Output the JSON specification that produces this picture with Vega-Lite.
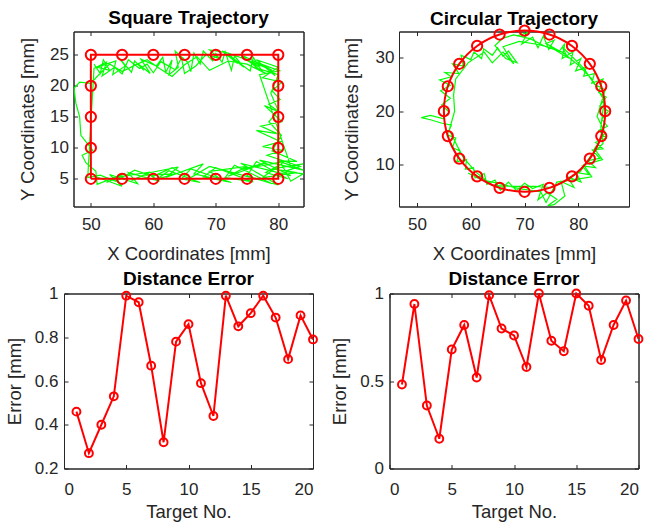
{
  "$schema": "https://vega.github.io/schema/vega-lite/v6.json",
  "padding": {"left": 4, "top": 8.5, "right": 0, "bottom": 0},
  "config": {
    "font": "Liberation Sans",
    "view": {"stroke": "#262626", "strokeWidth": 1},
    "axis": {"grid": false, "domainColor": "#262626", "tickColor": "#262626", "labelColor": "#262626", "titleColor": "#262626", "labelFontSize": 17, "titleFontSize": 18.5, "titleFontWeight": "normal", "tickSize": -4, "labelFont": "Liberation Sans", "titleFont": "Liberation Sans"},
    "title": {"fontSize": 19, "fontWeight": "bold", "color": "#000000", "offset": 5, "anchor": "middle", "frame": "group", "font": "Liberation Sans"}
  },
  "datasets": {
    "sqTraj": [
      {"i":1,"x":50.5,"y":23.5},{"i":2,"x":51.5,"y":22},{"i":3,"x":52,"y":24.2},{"i":4,"x":53,"y":22.5},{"i":5,"x":51,"y":23},{"i":6,"x":54,"y":24},{"i":7,"x":53.5,"y":21.8},{"i":8,"x":55.5,"y":23.2},{"i":9,"x":54.5,"y":24.5},{"i":10,"x":56.5,"y":22.2},
      {"i":11,"x":57,"y":24},{"i":12,"x":58.5,"y":22.5},{"i":13,"x":57.5,"y":23.6},{"i":14,"x":59.5,"y":22},{"i":15,"x":58,"y":24.3},{"i":16,"x":60.5,"y":23.2},{"i":17,"x":61.5,"y":24.6},{"i":18,"x":62,"y":22.2},{"i":19,"x":63,"y":24.2},{"i":20,"x":62.5,"y":21.8},
      {"i":21,"x":64,"y":23},{"i":22,"x":63.5,"y":25.6},{"i":23,"x":65.5,"y":23.8},{"i":24,"x":66,"y":22.3},{"i":25,"x":66.5,"y":25.3},{"i":26,"x":67.5,"y":23.5},{"i":27,"x":68,"y":25.6},{"i":28,"x":69.5,"y":24},{"i":29,"x":70,"y":25.2},{"i":30,"x":71,"y":23.8},
      {"i":31,"x":71.5,"y":25.5},{"i":32,"x":72.5,"y":22.5},{"i":33,"x":73,"y":24.8},{"i":34,"x":74.5,"y":23},{"i":35,"x":72,"y":25},{"i":36,"x":75.5,"y":22.4},{"i":37,"x":76,"y":24.6},{"i":38,"x":77.5,"y":22.2},{"i":39,"x":74,"y":25},{"i":40,"x":78.5,"y":22.8},
      {"i":41,"x":79.5,"y":21.6},{"i":42,"x":76.5,"y":24.2},{"i":43,"x":80,"y":23},{"i":44,"x":77.5,"y":21.3},{"i":45,"x":80.6,"y":20.6},{"i":46,"x":79,"y":19.2},{"i":47,"x":80.3,"y":17.8},{"i":48,"x":78.5,"y":17},{"i":49,"x":80.1,"y":15.8},{"i":50,"x":77.8,"y":16.8},
      {"i":51,"x":80.6,"y":14.2},{"i":52,"x":77.2,"y":13.5},{"i":53,"x":79.8,"y":12.3},{"i":54,"x":76.5,"y":12.8},{"i":55,"x":80.4,"y":11},{"i":56,"x":77.5,"y":10.2},{"i":57,"x":80.7,"y":9.6},{"i":58,"x":78.2,"y":8.8},{"i":59,"x":83.5,"y":7},{"i":60,"x":81,"y":6.2},
      {"i":61,"x":84,"y":5.8},{"i":62,"x":82,"y":4.6},{"i":63,"x":80.5,"y":7.4},{"i":64,"x":78,"y":6},{"i":65,"x":81.5,"y":5},{"i":66,"x":76.5,"y":7.8},{"i":67,"x":75,"y":5.5},{"i":68,"x":79,"y":4.2},{"i":69,"x":73,"y":7.2},{"i":70,"x":71.5,"y":5.2},
      {"i":71,"x":76,"y":4.5},{"i":72,"x":70,"y":6.8},{"i":73,"x":68,"y":5.3},{"i":74,"x":72.5,"y":4.4},{"i":75,"x":66,"y":6.6},{"i":76,"x":64.5,"y":5},{"i":77,"x":67.5,"y":4.4},{"i":78,"x":62.5,"y":6.3},{"i":79,"x":60.5,"y":4.9},{"i":80,"x":63.5,"y":5.8},
      {"i":81,"x":58.5,"y":5.6},{"i":82,"x":56.5,"y":4.7},{"i":83,"x":59.5,"y":6.1},{"i":84,"x":54.5,"y":5.3},{"i":85,"x":52.5,"y":4.4},{"i":86,"x":55.5,"y":5.9},{"i":87,"x":51,"y":4.1},{"i":88,"x":50.8,"y":6.2},{"i":89,"x":49.2,"y":7.6},{"i":90,"x":48.6,"y":8.8},
      {"i":91,"x":50.3,"y":9.6},{"i":92,"x":48.4,"y":12},{"i":93,"x":48.2,"y":15},{"i":94,"x":47.6,"y":17.2},{"i":95,"x":47.3,"y":19.6},{"i":96,"x":48.2,"y":20.6},{"i":97,"x":50,"y":20.4},{"i":98,"x":51,"y":21.5},{"i":99,"x":53,"y":23.5},{"i":100,"x":55,"y":22.3},
      {"i":101,"x":57,"y":23.3},{"i":102,"x":59,"y":24.2},{"i":103,"x":61,"y":22.8},{"i":104,"x":63,"y":21.5},{"i":105,"x":65,"y":23.4},{"i":106,"x":67,"y":24.7},{"i":107,"x":69,"y":22.5},{"i":108,"x":72,"y":24},{"i":109,"x":75,"y":23.5},{"i":110,"x":78,"y":22},
      {"i":111,"x":76,"y":23},{"i":112,"x":80,"y":21.8},{"i":113,"x":78.8,"y":18.8},{"i":114,"x":80,"y":16},{"i":115,"x":78.5,"y":14.2},{"i":116,"x":80.5,"y":12},{"i":117,"x":79,"y":9.5},{"i":118,"x":83,"y":7.8},{"i":119,"x":80,"y":7.9},{"i":120,"x":84,"y":6.4},
      {"i":121,"x":77,"y":8},{"i":122,"x":82,"y":5.5},{"i":123,"x":74,"y":7.5},{"i":124,"x":80,"y":4},{"i":125,"x":72,"y":6.2},{"i":126,"x":69,"y":7},{"i":127,"x":66,"y":5.2},{"i":128,"x":63,"y":6.8},{"i":129,"x":60,"y":5.4},{"i":130,"x":57,"y":6.4},
      {"i":131,"x":54,"y":4.6},{"i":132,"x":51.5,"y":5.6},{"i":133,"x":49.5,"y":5.2},{"i":134,"x":50.5,"y":22.8},{"i":135,"x":52.5,"y":23.8},{"i":136,"x":51.8,"y":21.6},{"i":137,"x":53.8,"y":23},{"i":138,"x":55,"y":21.9},{"i":139,"x":56,"y":24.2},{"i":140,"x":57.8,"y":22.8},
      {"i":141,"x":59,"y":23.5},{"i":142,"x":60,"y":22.1},{"i":143,"x":61.2,"y":23.9},{"i":144,"x":63.5,"y":22.6},{"i":145,"x":64.5,"y":24.5},{"i":146,"x":65,"y":22},{"i":147,"x":66.8,"y":23.2},{"i":148,"x":68.5,"y":25.1},{"i":149,"x":70.5,"y":24.4},{"i":150,"x":69,"y":25.8},
      {"i":151,"x":72,"y":25.3},{"i":152,"x":73.5,"y":23.6},{"i":153,"x":71,"y":25.6},{"i":154,"x":75,"y":24.2},{"i":155,"x":77,"y":23},{"i":156,"x":74,"y":24.6},{"i":157,"x":79,"y":22.5},{"i":158,"x":76,"y":24},{"i":159,"x":80.2,"y":22.4},{"i":160,"x":77,"y":21.8},
      {"i":161,"x":82,"y":7},{"i":162,"x":84,"y":7.4},{"i":163,"x":79,"y":6.6},{"i":164,"x":83,"y":6},{"i":165,"x":77.5,"y":5.2},{"i":166,"x":81,"y":7.8},{"i":167,"x":74.5,"y":6.6},{"i":168,"x":78,"y":7.6},{"i":169,"x":72,"y":5.4},{"i":170,"x":75,"y":7},
      {"i":171,"x":69,"y":6.2},{"i":172,"x":71,"y":4.8},{"i":173,"x":66.5,"y":5.8},{"i":174,"x":68,"y":7.4},{"i":175,"x":62,"y":5.2},{"i":176,"x":64,"y":6.9},{"i":177,"x":59,"y":5.9},{"i":178,"x":61,"y":4.6},{"i":179,"x":56,"y":6},{"i":180,"x":57.5,"y":4.2},
      {"i":181,"x":53,"y":5.7},{"i":182,"x":55,"y":3.8},{"i":183,"x":50.6,"y":5.4}
    ],
    "sqPath": [
      {"i":1,"x":50,"y":5},{"i":2,"x":80,"y":5},{"i":3,"x":80,"y":25},{"i":4,"x":50,"y":25},{"i":5,"x":50,"y":5}
    ],
    "sqTargets": [
      {"x":50,"y":25},{"x":55,"y":25},{"x":60,"y":25},{"x":65,"y":25},{"x":70,"y":25},{"x":75,"y":25},{"x":80,"y":25},
      {"x":50,"y":5},{"x":55,"y":5},{"x":60,"y":5},{"x":65,"y":5},{"x":70,"y":5},{"x":75,"y":5},{"x":80,"y":5},
      {"x":50,"y":10},{"x":50,"y":15},{"x":50,"y":20},{"x":80,"y":10},{"x":80,"y":15},{"x":80,"y":20}
    ],
    "ciTraj": [
      {"i":1,"x":68.5,"y":34},{"i":2,"x":70.5,"y":34.6},{"i":3,"x":69.5,"y":32.5},{"i":4,"x":71.5,"y":33.8},{"i":5,"x":72.5,"y":31.8},{"i":6,"x":73.5,"y":34},{"i":7,"x":74.5,"y":31.5},{"i":8,"x":75.5,"y":33.2},{"i":9,"x":74,"y":32.6},{"i":10,"x":76.5,"y":31.2},
      {"i":11,"x":77.5,"y":32.6},{"i":12,"x":77,"y":29.8},{"i":13,"x":79,"y":31},{"i":14,"x":78.5,"y":28.6},{"i":15,"x":80.5,"y":29.8},{"i":16,"x":79.5,"y":27.5},{"i":17,"x":81.5,"y":28.2},{"i":18,"x":81,"y":26.5},{"i":19,"x":83,"y":27},{"i":20,"x":82.5,"y":25.2},
      {"i":21,"x":84.6,"y":26},{"i":22,"x":83.8,"y":23.5},{"i":23,"x":85.2,"y":22.6},{"i":24,"x":84,"y":21},{"i":25,"x":85.6,"y":20},{"i":26,"x":84.4,"y":18.5},{"i":27,"x":85.4,"y":17.2},{"i":28,"x":83.8,"y":16.4},{"i":29,"x":85.2,"y":15},{"i":30,"x":83.2,"y":14.2},
      {"i":31,"x":84.6,"y":13},{"i":32,"x":82.6,"y":12.8},{"i":33,"x":84,"y":11.2},{"i":34,"x":81.8,"y":10.8},{"i":35,"x":83.2,"y":9.5},{"i":36,"x":80.8,"y":9.8},{"i":37,"x":82,"y":8.2},{"i":38,"x":79.6,"y":8.6},{"i":39,"x":80.5,"y":6.8},{"i":40,"x":78,"y":7.8},
      {"i":41,"x":79.2,"y":5.8},{"i":42,"x":76.8,"y":6.9},{"i":43,"x":77.5,"y":4.2},{"i":44,"x":75.5,"y":2.6},{"i":45,"x":74.3,"y":2.4},{"i":46,"x":76,"y":3.6},{"i":47,"x":74.2,"y":4.8},{"i":48,"x":72.5,"y":3.5},{"i":49,"x":73.5,"y":6.4},{"i":50,"x":71.5,"y":5.6},
      {"i":51,"x":70,"y":6.6},{"i":52,"x":68.5,"y":5.2},{"i":53,"x":67,"y":6.8},{"i":54,"x":65.5,"y":5.3},{"i":55,"x":64.5,"y":7.2},{"i":56,"x":63,"y":6.4},{"i":57,"x":62.5,"y":8.4},{"i":58,"x":60.8,"y":7.6},{"i":59,"x":60.5,"y":9.5},{"i":60,"x":59,"y":9.2},
      {"i":61,"x":59.2,"y":11},{"i":62,"x":57.4,"y":10.6},{"i":63,"x":58,"y":12.6},{"i":64,"x":56.6,"y":13.2},{"i":65,"x":57.2,"y":15},{"i":66,"x":55.6,"y":15.6},{"i":67,"x":56.4,"y":17.4},{"i":68,"x":54.5,"y":17.8},{"i":69,"x":52.5,"y":18.4},{"i":70,"x":50.8,"y":18.8},
      {"i":71,"x":52.5,"y":19.2},{"i":72,"x":54.8,"y":18.6},{"i":73,"x":56,"y":19.8},{"i":74,"x":54.6,"y":21.2},{"i":75,"x":56.2,"y":22.4},{"i":76,"x":54.4,"y":23.8},{"i":77,"x":56.2,"y":24.8},{"i":78,"x":54.2,"y":25.8},{"i":79,"x":56.4,"y":26.4},{"i":80,"x":55.2,"y":27.2},
      {"i":81,"x":57.8,"y":27},{"i":82,"x":56.6,"y":28.8},{"i":83,"x":58.6,"y":28.4},{"i":84,"x":58.2,"y":30.4},{"i":85,"x":60,"y":29.6},{"i":86,"x":60.6,"y":31},{"i":87,"x":62,"y":29.8},{"i":88,"x":62.4,"y":31.6},{"i":89,"x":64,"y":30.4},{"i":90,"x":65,"y":31.8},
      {"i":91,"x":66,"y":30.2},{"i":92,"x":67,"y":31.2},{"i":93,"x":68.6,"y":29},{"i":94,"x":66.5,"y":29.8},{"i":95,"x":64.5,"y":32.2},{"i":96,"x":66,"y":33.6},{"i":97,"x":68,"y":34.2},{"i":98,"x":71,"y":33.5},{"i":99,"x":74,"y":32},{"i":100,"x":77,"y":31},
      {"i":101,"x":80,"y":28.6},{"i":102,"x":82.5,"y":26},{"i":103,"x":84.8,"y":22},{"i":104,"x":84.2,"y":17},{"i":105,"x":84.6,"y":14},{"i":106,"x":82.4,"y":11.8},{"i":107,"x":80.4,"y":8.8},{"i":108,"x":77.6,"y":7},{"i":109,"x":75,"y":5.8},{"i":110,"x":72,"y":6},
      {"i":111,"x":68,"y":6},{"i":112,"x":64,"y":6.2},{"i":113,"x":61,"y":8.6},{"i":114,"x":58.6,"y":11.4},{"i":115,"x":57.5,"y":13.5},{"i":116,"x":56,"y":16.5},{"i":117,"x":57,"y":20},{"i":118,"x":56.8,"y":23},{"i":119,"x":57.2,"y":26},{"i":120,"x":59.5,"y":29},
      {"i":121,"x":62.5,"y":31},{"i":122,"x":64,"y":29},{"i":123,"x":66,"y":31},{"i":124,"x":68,"y":28.8},{"i":125,"x":66,"y":32},{"i":126,"x":69,"y":33},{"i":127,"x":72,"y":32.5},{"i":128,"x":75,"y":31.8},{"i":129,"x":78,"y":30},{"i":130,"x":77,"y":32},
      {"i":131,"x":81,"y":28},{"i":132,"x":83,"y":25},{"i":133,"x":85,"y":24},{"i":134,"x":83.5,"y":19},{"i":135,"x":85,"y":16},{"i":136,"x":83,"y":13},{"i":137,"x":84.5,"y":11},{"i":138,"x":81,"y":10},{"i":139,"x":82.5,"y":7.8},{"i":140,"x":79,"y":7.2},
      {"i":141,"x":76,"y":6.8},{"i":142,"x":74,"y":3},{"i":143,"x":73,"y":5},{"i":144,"x":69,"y":5.6},{"i":145,"x":65,"y":6.6},{"i":146,"x":62,"y":7.2},{"i":147,"x":59.5,"y":8.5}
    ],
    "ciTargets": [
      {"i":1,"x":85,"y":20},{"i":2,"x":84.27,"y":24.64},{"i":3,"x":82.14,"y":28.82},{"i":4,"x":78.82,"y":32.14},{"i":5,"x":74.64,"y":34.27},
      {"i":6,"x":70,"y":35},{"i":7,"x":65.36,"y":34.27},{"i":8,"x":61.18,"y":32.14},{"i":9,"x":57.86,"y":28.82},{"i":10,"x":55.73,"y":24.64},
      {"i":11,"x":55,"y":20},{"i":12,"x":55.73,"y":15.36},{"i":13,"x":57.86,"y":11.18},{"i":14,"x":61.18,"y":7.86},{"i":15,"x":65.36,"y":5.73},
      {"i":16,"x":70,"y":5},{"i":17,"x":74.64,"y":5.73},{"i":18,"x":78.82,"y":7.86},{"i":19,"x":82.14,"y":11.18},{"i":20,"x":84.27,"y":15.36}
    ],
    "err1": [
      {"t":1,"e":0.46},{"t":2,"e":0.27},{"t":3,"e":0.40},{"t":4,"e":0.53},{"t":5,"e":0.99},{"t":6,"e":0.96},{"t":7,"e":0.67},{"t":8,"e":0.32},{"t":9,"e":0.78},{"t":10,"e":0.86},
      {"t":11,"e":0.59},{"t":12,"e":0.44},{"t":13,"e":0.99},{"t":14,"e":0.85},{"t":15,"e":0.91},{"t":16,"e":0.99},{"t":17,"e":0.89},{"t":18,"e":0.70},{"t":19,"e":0.90},{"t":20,"e":0.79}
    ],
    "err2": [
      {"t":1,"e":0.48},{"t":2,"e":0.94},{"t":3,"e":0.36},{"t":4,"e":0.17},{"t":5,"e":0.68},{"t":6,"e":0.82},{"t":7,"e":0.52},{"t":8,"e":0.99},{"t":9,"e":0.80},{"t":10,"e":0.76},
      {"t":11,"e":0.58},{"t":12,"e":1.00},{"t":13,"e":0.73},{"t":14,"e":0.67},{"t":15,"e":1.00},{"t":16,"e":0.93},{"t":17,"e":0.62},{"t":18,"e":0.82},{"t":19,"e":0.96},{"t":20,"e":0.74}
    ]
  },
  "spacing": 7.5,
  "hconcat": [
    {
      "bounds": "flush",
      "center": true,
      "spacing": 87,
      "vconcat": [
        {
          "width": 230, "height": 175,
          "title": {"text": "Square Trajectory", "dy": 2},
          "resolve": {"axis": {"x": "independent", "y": "independent"}},
          "layer": [
            {
              "data": {"name": "sqTraj"},
              "mark": {"type": "line", "color": "#00FF00", "strokeWidth": 1.2, "clip": true},
              "encoding": {
                "x": {"field": "x", "type": "quantitative", "scale": {"domain": [47.22, 84.04], "nice": false, "zero": false}, "axis": {"values": [50, 60, 70, 80], "title": "X Coordinates [mm]", "labelPadding": 14, "titlePadding": 12}},
                "y": {"field": "y", "type": "quantitative", "scale": {"domain": [0.53, 28.76], "nice": false, "zero": false}, "axis": {"values": [5, 10, 15, 20, 25], "title": "Y Coordinates [mm]", "labelPadding": 9, "titlePadding": 12.5}},
                "order": {"field": "i", "type": "quantitative"}
              }
            },
            {
              "data": {"name": "sqPath"},
              "mark": {"type": "line", "color": "#FF0000", "strokeWidth": 2},
              "encoding": {
                "x": {"field": "x", "type": "quantitative", "axis": null},
                "y": {"field": "y", "type": "quantitative", "axis": null},
                "order": {"field": "i", "type": "quantitative"}
              }
            },
            {
              "data": {"name": "sqTargets"},
              "mark": {"type": "point", "shape": "circle", "filled": false, "color": "#FF0000", "strokeWidth": 2, "size": 105, "opacity": 1},
              "encoding": {
                "x": {"field": "x", "type": "quantitative", "axis": {"orient": "top", "values": [50, 60, 70, 80], "labels": false, "title": null}},
                "y": {"field": "y", "type": "quantitative", "axis": {"orient": "right", "values": [5, 10, 15, 20, 25], "labels": false, "title": null}}
              }
            }
          ]
        },
        {
          "width": 249, "height": 175,
          "title": {"text": "Distance Error", "dy": 9},
          "data": {"name": "err1"},
          "resolve": {"axis": {"x": "independent", "y": "independent"}},
          "layer": [
            {
              "mark": {"type": "line", "color": "#FF0000", "strokeWidth": 2},
              "encoding": {
                "x": {"field": "t", "type": "quantitative", "scale": {"domain": [0, 20], "nice": false}, "axis": {"values": [0, 5, 10, 15, 20], "title": "Target No.", "labelPadding": 17, "titlePadding": 5}},
                "y": {"field": "e", "type": "quantitative", "scale": {"domain": [0.2, 1], "nice": false, "zero": false}, "axis": {"values": [0.2, 0.4, 0.6, 0.8, 1], "format": "~g", "title": "Error [mm]", "labelPadding": 10, "titlePadding": 10}}
              }
            },
            {
              "mark": {"type": "point", "shape": "circle", "filled": false, "color": "#FF0000", "strokeWidth": 2, "size": 62, "opacity": 1},
              "encoding": {
                "x": {"field": "t", "type": "quantitative", "axis": {"orient": "top", "values": [0, 5, 10, 15, 20], "labels": false, "title": null}},
                "y": {"field": "e", "type": "quantitative", "axis": {"orient": "right", "values": [0.2, 0.4, 0.6, 0.8, 1], "labels": false, "title": null}}
              }
            }
          ]
        }
      ]
    },
    {
      "bounds": "flush",
      "center": true,
      "spacing": 87,
      "vconcat": [
        {
          "width": 230, "height": 175,
          "title": {"text": "Circular Trajectory", "dy": 13},
          "resolve": {"axis": {"x": "independent", "y": "independent"}},
          "layer": [
            {
              "data": {"name": "ciTraj"},
              "mark": {"type": "line", "color": "#00FF00", "strokeWidth": 1.2, "clip": true},
              "encoding": {
                "x": {"field": "x", "type": "quantitative", "scale": {"domain": [46.65, 89.43], "nice": false, "zero": false}, "axis": {"values": [50, 60, 70, 80], "title": "X Coordinates [mm]", "labelPadding": 14, "titlePadding": 12}},
                "y": {"field": "y", "type": "quantitative", "scale": {"domain": [2.26, 34.83], "nice": false, "zero": false}, "axis": {"values": [10, 20, 30], "title": "Y Coordinates [mm]", "labelPadding": 9, "titlePadding": 13.5}},
                "order": {"field": "i", "type": "quantitative"}
              }
            },
            {
              "data": {"name": "ciTargets"},
              "mark": {"type": "line", "color": "#FF0000", "strokeWidth": 2, "interpolate": "cardinal-closed"},
              "encoding": {
                "x": {"field": "x", "type": "quantitative", "axis": null},
                "y": {"field": "y", "type": "quantitative", "axis": null},
                "order": {"field": "i", "type": "quantitative"}
              }
            },
            {
              "data": {"name": "ciTargets"},
              "mark": {"type": "point", "shape": "circle", "filled": false, "color": "#FF0000", "strokeWidth": 2, "size": 105, "opacity": 1},
              "encoding": {
                "x": {"field": "x", "type": "quantitative", "axis": {"orient": "top", "values": [50, 60, 70, 80], "labels": false, "title": null}},
                "y": {"field": "y", "type": "quantitative", "axis": {"orient": "right", "values": [10, 20, 30], "labels": false, "title": null}}
              }
            }
          ]
        },
        {
          "width": 249, "height": 175,
          "title": {"text": "Distance Error", "dy": 9},
          "data": {"name": "err2"},
          "resolve": {"axis": {"x": "independent", "y": "independent"}},
          "layer": [
            {
              "mark": {"type": "line", "color": "#FF0000", "strokeWidth": 2},
              "encoding": {
                "x": {"field": "t", "type": "quantitative", "scale": {"domain": [0, 20], "nice": false}, "axis": {"values": [0, 5, 10, 15, 20], "title": "Target No.", "labelPadding": 17, "titlePadding": 5}},
                "y": {"field": "e", "type": "quantitative", "scale": {"domain": [0, 1], "nice": false}, "axis": {"values": [0, 0.5, 1], "format": "~g", "title": "Error [mm]", "labelPadding": 10, "titlePadding": 10}}
              }
            },
            {
              "mark": {"type": "point", "shape": "circle", "filled": false, "color": "#FF0000", "strokeWidth": 2, "size": 62, "opacity": 1},
              "encoding": {
                "x": {"field": "t", "type": "quantitative", "axis": {"orient": "top", "values": [0, 5, 10, 15, 20], "labels": false, "title": null}},
                "y": {"field": "e", "type": "quantitative", "axis": {"orient": "right", "values": [0, 0.5, 1], "labels": false, "title": null}}
              }
            }
          ]
        }
      ]
    }
  ]
}
